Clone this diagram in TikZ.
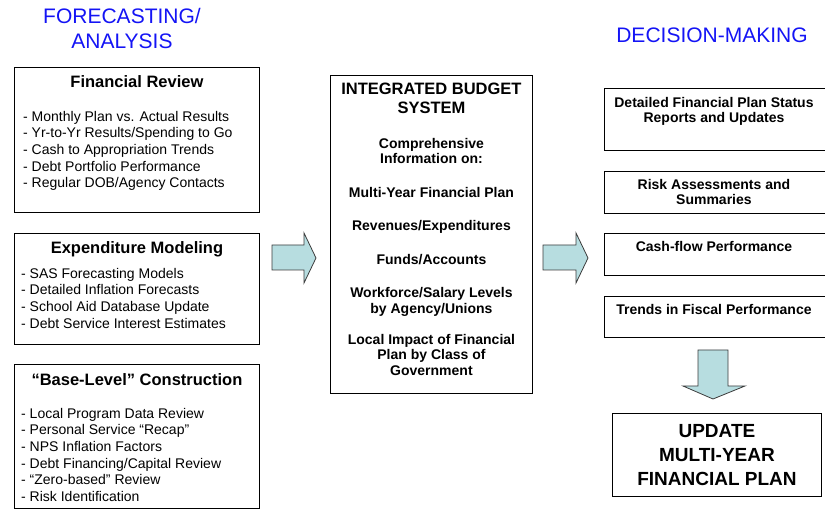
\documentclass[tikz,border=0pt]{standalone}
\usepackage{fontspec}
\setmainfont{Liberation Sans}
\usepackage{tikz}

\definecolor{titleblue}{RGB}{20,20,245}
\definecolor{arrowfill}{RGB}{183,221,224}
\definecolor{arrowline}{RGB}{60,60,60}

\begin{document}
\begin{tikzpicture}[x=1pt, y=-1pt,
    box/.style={rectangle, draw=black, line width=0.9pt, anchor=north west, inner sep=0pt},
    heading/.style={anchor=north, inner sep=0pt, font=\fontsize{16.5}{19}\selectfont\bfseries},
    items/.style={anchor=north west, inner sep=0pt, align=left, font=\fontsize{14}{16.6}\selectfont},
    boldtext/.style={anchor=north, inner sep=0pt, align=center, font=\fontsize{14}{15.5}\selectfont\bfseries},
    title/.style={anchor=north, inner sep=0pt, align=center, text=titleblue, font=\fontsize{21}{25}\selectfont},
    blockarrow/.style={draw=arrowline, fill=arrowfill, line width=0.8pt, line join=miter}]
    \useasboundingbox (0,0) rectangle (825,510);
    \clip (0,0) rectangle (825,510);
    % column titles
    \node[title] (fa) at (122,8) {FORECASTING/\\ANALYSIS};
    \node[title] (dm) at (712,28) {DECISION-MAKING};
    % forecasting / analysis
    \node[box, minimum width=245pt, minimum height=145pt] (fin) at (14,67) {};
    \node[heading] (finh) at ([yshift=-8pt]fin.north) {Financial Review};
    \node[items] (finl) at ([xshift=9pt, yshift=-44pt]fin.north west) {- Monthly Plan vs. Actual Results\\- Yr-to-Yr Results/Spending to Go\\- Cash to Appropriation Trends\\- Debt Portfolio Performance\\- Regular DOB/Agency Contacts};
    \node[box, minimum width=245pt, minimum height=111pt] (exp) at (14,233) {};
    \node[heading] (exph) at ([yshift=-8pt]exp.north) {Expenditure Modeling};
    \node[items] (expl) at ([xshift=7pt, yshift=-35pt]exp.north west) {- SAS Forecasting Models\\- Detailed Inflation Forecasts\\- School Aid Database Update\\- Debt Service Interest Estimates};
    \node[box, minimum width=245pt, minimum height=144pt] (base) at (14,364) {};
    \node[heading] (baseh) at ([yshift=-9pt]base.north) {“Base-Level” Construction};
    \node[items] (basel) at ([xshift=7pt, yshift=-44pt]base.north west) {- Local Program Data Review\\- Personal Service “Recap”\\- NPS Inflation Factors\\- Debt Financing/Capital Review\\- “Zero-based” Review\\- Risk Identification};
    % integrated budget system
    \node[box, minimum width=202pt, minimum height=318pt] (ibs) at (330,75) {};
    \node[heading, align=center] (ibsh) at ([yshift=-8pt]ibs.north) {INTEGRATED BUDGET\\SYSTEM};
    \node[boldtext] (ibsl) at ([yshift=-63pt]ibs.north) {Comprehensive\\Information on:\\[18.5pt]Multi-Year Financial Plan\\[17.5pt]Revenues/Expenditures\\[18.5pt]Funds/Accounts\\[17.5pt]Workforce/Salary Levels\\by Agency/Unions\\[15.5pt]Local Impact of Financial\\Plan by Class of\\Government};
    % decision-making
    \node[box, minimum width=231pt, minimum height=62pt] (rep) at (604,88) {};
    \node[boldtext] (rept) at ([xshift=-6pt, yshift=-9pt]rep.north) {Detailed Financial Plan Status\\Reports and Updates};
    \node[box, minimum width=231pt, minimum height=42pt] (risk) at (604,171) {};
    \node[boldtext] (riskt) at ([xshift=-6pt, yshift=-8pt]risk.north) {Risk Assessments and\\Summaries};
    \node[box, minimum width=231pt, minimum height=42pt] (cash) at (604,233) {};
    \node[boldtext] (casht) at ([xshift=-6pt, yshift=-8pt]cash.north) {Cash-flow Performance};
    \node[box, minimum width=231pt, minimum height=41pt] (trend) at (604,296) {};
    \node[boldtext] (trendt) at ([xshift=-6pt, yshift=-8pt]trend.north) {Trends in Fiscal Performance};
    \node[box, minimum width=209pt, minimum height=83pt, align=center, font=\fontsize{19}{24}\selectfont\bfseries] (upd) at (612,413) {UPDATE\\MULTI-YEAR\\FINANCIAL PLAN};
    % block arrows
    \draw[blockarrow] (272,245) -- (304,245) -- (304,233) -- (316,258) -- (304,283) -- (304,270) -- (272,270) -- cycle;
    \draw[blockarrow] (543,245) -- (576,245) -- (576,233) -- (588,258) -- (576,283) -- (576,270) -- (543,270) -- cycle;
    \draw[blockarrow] (698,350) -- (728,350) -- (728,386) -- (745,386) -- (713,399) -- (683,386) -- (698,386) -- cycle;
\end{tikzpicture}
\end{document}
